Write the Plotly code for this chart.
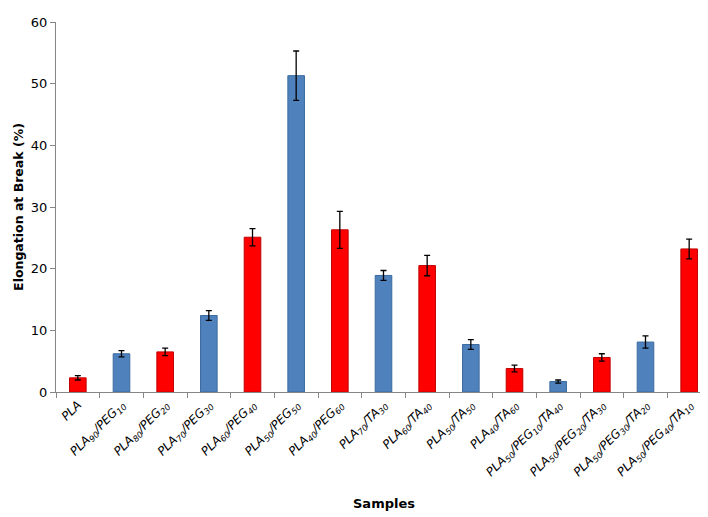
import plotly.graph_objects as go

# Echantillons et valeurs
samples = [
    "PLA",
    "PLA<sub>90</sub>/PEG<sub>10</sub>",
    "PLA<sub>80</sub>/PEG<sub>20</sub>",
    "PLA<sub>70</sub>/PEG<sub>30</sub>",
    "PLA<sub>60</sub>/PEG<sub>40</sub>",
    "PLA<sub>50</sub>/PEG<sub>50</sub>",
    "PLA<sub>40</sub>/PEG<sub>60</sub>",
    "PLA<sub>70</sub>/TA<sub>30</sub>",
    "PLA<sub>60</sub>/TA<sub>40</sub>",
    "PLA<sub>50</sub>/TA<sub>50</sub>",
    "PLA<sub>40</sub>/TA<sub>60</sub>",
    "PLA<sub>50</sub>/PEG<sub>10</sub>/TA<sub>40</sub>",
    "PLA<sub>50</sub>/PEG<sub>20</sub>/TA<sub>30</sub>",
    "PLA<sub>50</sub>/PEG<sub>30</sub>/TA<sub>20</sub>",
    "PLA<sub>50</sub>/PEG<sub>40</sub>/TA<sub>10</sub>",
]
elongation = [2.3, 6.2, 6.5, 12.4, 25.1, 51.3, 26.3, 18.9, 20.5, 7.7, 3.8, 1.7, 5.6, 8.1, 23.2]
errors = [0.35, 0.5, 0.6, 0.8, 1.4, 4.0, 3.0, 0.8, 1.65, 0.8, 0.55, 0.25, 0.6, 1.0, 1.6]
y_ticks = [0, 10, 20, 30, 40, 50, 60]

RED = "#FF0000"
BLUE = "#4F81BD"
colors = [RED if i % 2 == 0 else BLUE for i in range(len(samples))]
lines = ["#C00000" if i % 2 == 0 else "#3A6A9E" for i in range(len(samples))]

tick_text = ["<i>" + s + "</i>" for s in samples]

fig = go.Figure(go.Bar(
    x=samples, y=elongation,
    marker=dict(color=colors, line=dict(color=lines, width=1)),
    width=0.38,
    error_y=dict(type="data", array=errors, visible=True,
                 color="#000000", thickness=1.3, width=3),
))

fig.update_layout(
    width=708, height=517,
    paper_bgcolor="white", plot_bgcolor="white",
    font=dict(family="DejaVu Sans, Verdana, sans-serif", color="#000000"),
    margin=dict(l=48, r=5, t=14, b=133),
    showlegend=False,
    bargap=0.62,
)
fig.update_xaxes(
    tickmode="array", tickvals=samples, ticktext=tick_text,
    tickangle=-45, tickfont=dict(size=12), automargin=False,
    showline=True, linecolor="#868686", linewidth=1,
    ticks="outside", tickson="boundaries", ticklen=5, tickcolor="#868686",
    showgrid=False,
)
fig.update_yaxes(
    range=[0, 60], tickvals=y_ticks, tickfont=dict(size=13), automargin=False,
    showline=True, linecolor="#868686", linewidth=1,
    ticks="outside", ticklen=5, tickcolor="#868686",
    showgrid=False, zeroline=False,
    title=dict(text="<b>Elongation at Break (%)</b>", font=dict(size=12.5), standoff=4),
)
fig.add_annotation(
    text="<b>Samples</b>", xref="paper", yref="paper", x=0.5, y=-0.30,
    showarrow=False, font=dict(size=13), yanchor="middle",
)

fig.write_html("out.html")
